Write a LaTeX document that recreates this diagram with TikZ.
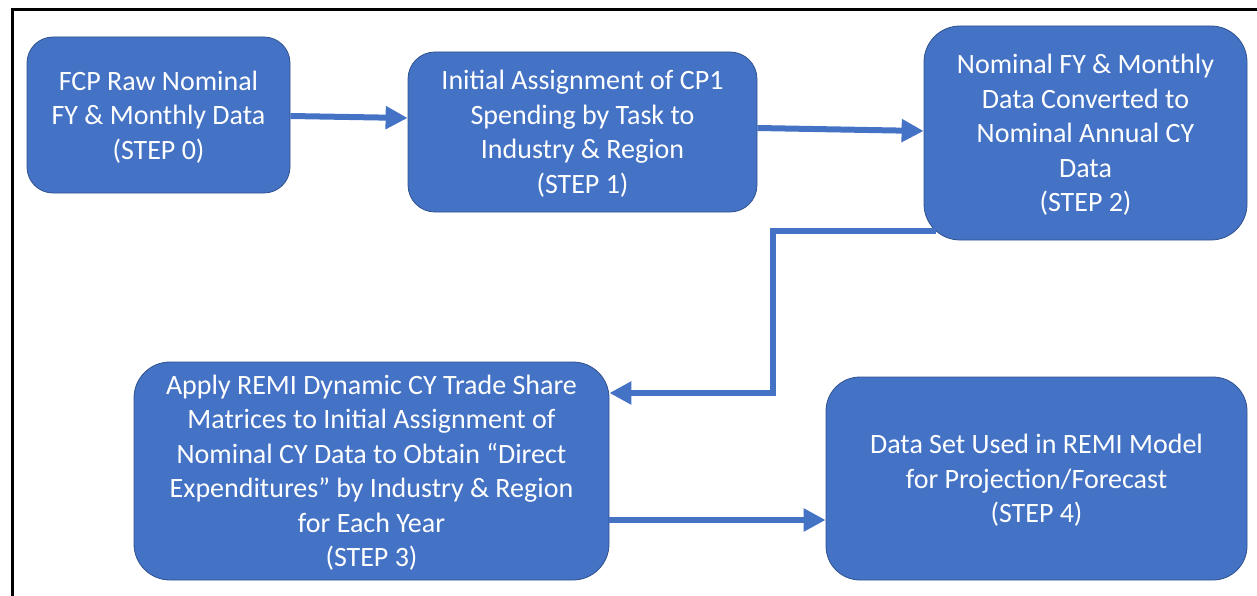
\documentclass[tikz,border=0pt]{standalone}
\usepackage{fontspec}
\setmainfont{Carlito}
\usetikzlibrary{arrows.meta}
\definecolor{boxblue}{HTML}{4472C4}
\definecolor{edgeblue}{HTML}{2F528F}
\begin{document}
\begin{tikzpicture}[x=1pt,y=-1pt,
  stepbox/.style={draw=edgeblue, line width=0.8pt, fill=boxblue, text=white,
    align=center, font=\fontsize{28}{34.5}\selectfont, inner sep=0pt, text depth=0pt},
  arr/.style={draw=boxblue, line width=6pt, -{Triangle[length=22pt,width=22pt]}}]
\useasboundingbox (0,0) rectangle (1257,596);
\draw[line width=3pt] (12,596) -- (12,10) -- (1258,10);

\node[stepbox, minimum width=263pt, minimum height=156pt, rounded corners=26pt] (b0) at (158.5,115)
  {FCP Raw Nominal\\FY \& Monthly Data\\(STEP 0)};
\node[stepbox, minimum width=349pt, minimum height=160pt, rounded corners=27pt] (b1) at (582.5,132)
  {Initial Assignment of CP1\\Spending by Task to\\Industry \& Region\\(STEP 1)};
\node[stepbox, minimum width=323pt, minimum height=214pt, rounded corners=36pt] (b2) at (1085.5,133)
  {Nominal FY \& Monthly\\Data Converted to\\Nominal Annual CY\\Data\\(STEP 2)};
\node[stepbox, minimum width=475pt, minimum height=218pt, rounded corners=36pt] (b3) at (371.5,471)
  {Apply REMI Dynamic CY Trade Share\\Matrices to Initial Assignment of\\Nominal CY Data to Obtain “Direct\\Expenditures” by Industry \& Region\\for Each Year\\(STEP 3)};
\node[stepbox, minimum width=421pt, minimum height=203pt, rounded corners=34pt] (b4) at (1036.5,478.5)
  {Data Set Used in REMI Model\\for Projection/Forecast\\(STEP 4)};

\draw[arr] ([yshift=-1pt]b0.east) -- ([yshift=14pt]b1.west);
\draw[arr] ([yshift=4pt]b1.east) -- ([yshift=2pt]b2.west);
\draw[arr] ([xshift=12pt,yshift=9pt]b2.south west) -| ([xshift=164pt,yshift=78pt]b3.east) -- ([yshift=78pt]b3.east);
\draw[arr] ([yshift=-49pt]b3.east) -- ([yshift=-41.5pt]b4.west);
\end{tikzpicture}
\end{document}
